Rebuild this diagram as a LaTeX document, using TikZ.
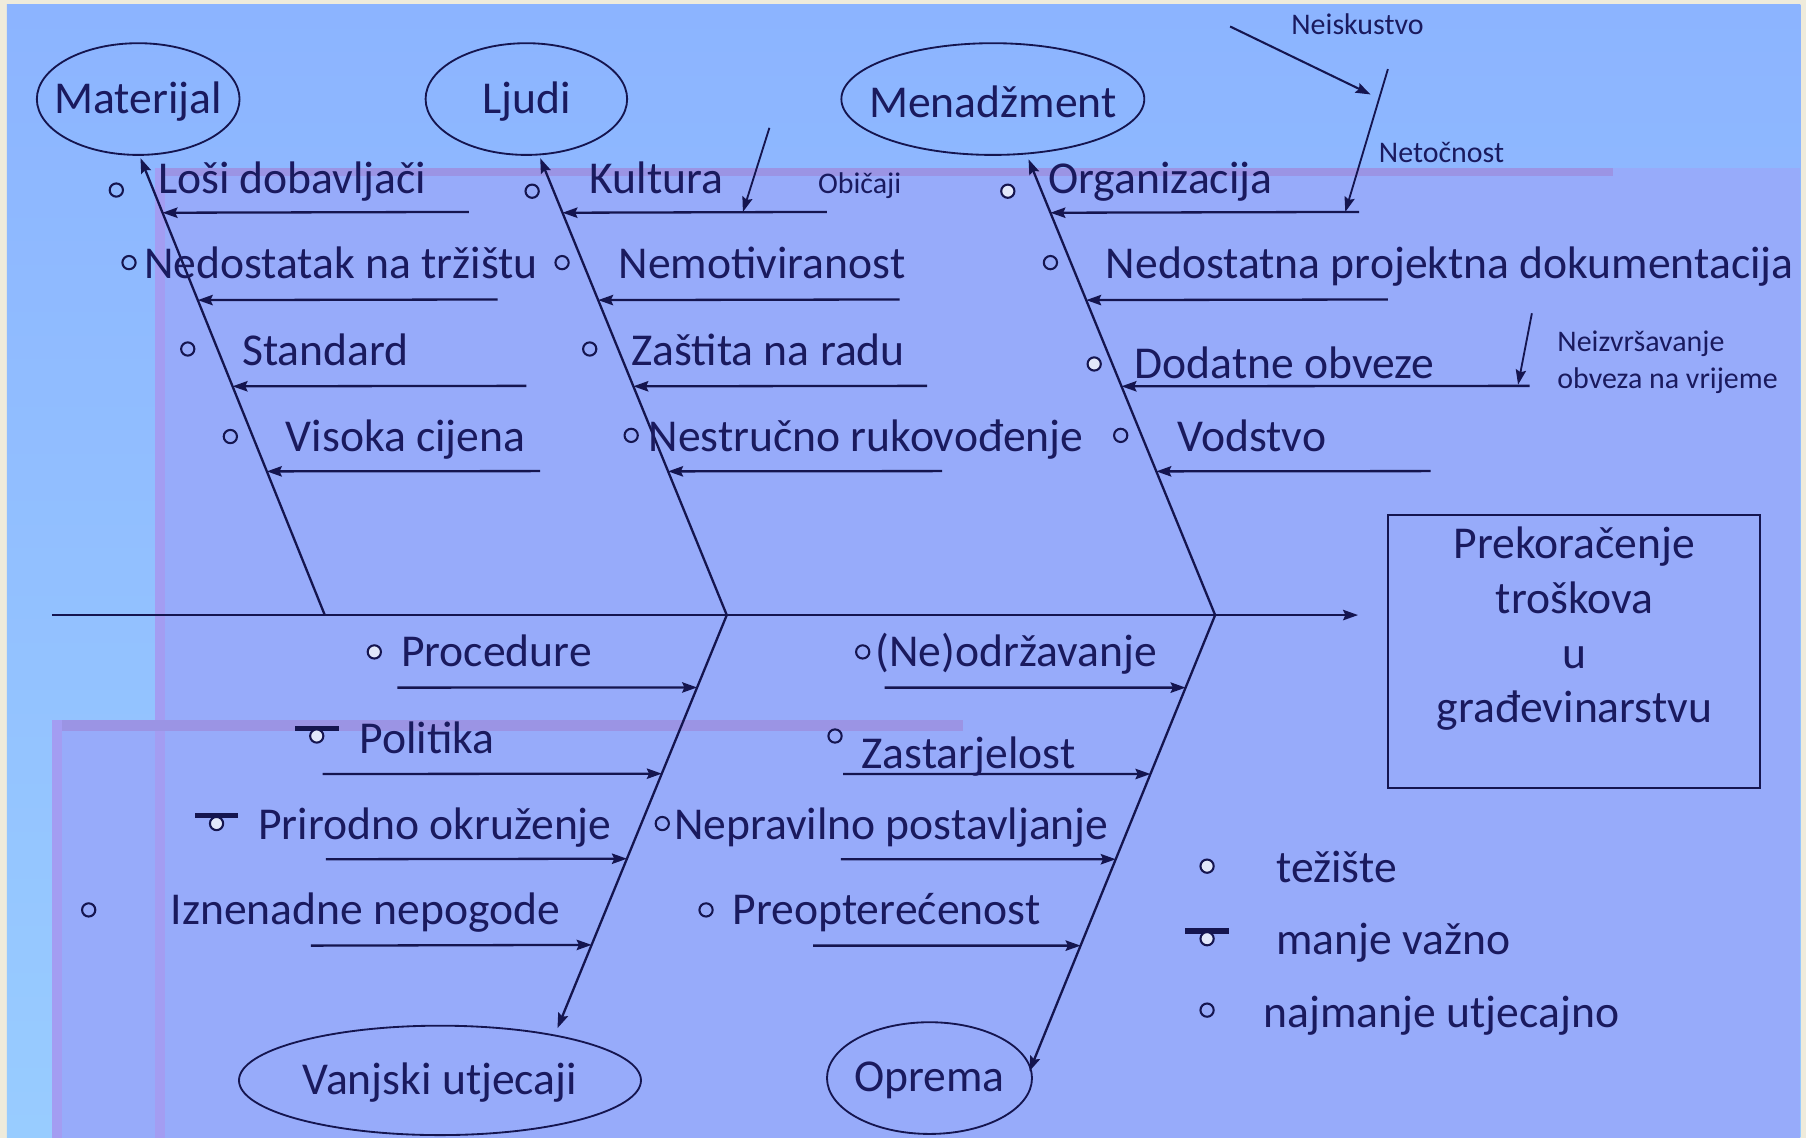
\documentclass[tikz,border=0pt]{standalone}
\usepackage{fontspec}
\setmainfont{Carlito}
\usetikzlibrary{arrows.meta,shapes.geometric,calc}
\definecolor{navy}{HTML}{15154F}
\definecolor{txt}{HTML}{1A1A5E}
\definecolor{beige}{HTML}{EFEBDB}
\definecolor{bgtop}{HTML}{8CB4FF}
\definecolor{bgbot}{HTML}{98CCFF}
\definecolor{lav}{HTML}{97ABFA}
\definecolor{bandh}{HTML}{9B94E4}
\definecolor{bandv}{HTML}{A39DF2}
\definecolor{dotfill}{HTML}{E2E8FA}
\newcommand\lblfnt{\fontsize{39.6}{47.5}\selectfont}
\newcommand\smlfnt{\fontsize{26}{32}\selectfont}
\begin{document}
\begin{tikzpicture}[x=1pt,y=-1pt,
  cat/.style={ellipse, draw=navy, line width=1.6pt, inner sep=0pt},
  catlbl/.style={font=\lblfnt, text=txt, inner sep=0pt, yshift=-2pt},
  lbl/.style={anchor=base west, inner sep=0pt, font=\lblfnt, text=txt},
  sml/.style={anchor=base west, inner sep=0pt, font=\smlfnt, text=txt},
  arr/.style={draw=navy, line width=2pt, -{Stealth[length=13pt,width=9pt,inset=2pt]}},
  dot/.style={circle, draw=navy, line width=1.8pt, minimum size=11.5pt, inner sep=0pt},
  dotf/.style={dot, fill=dotfill},
  pics/lessimp/.style={code={
    \fill[navy] (-19,-9) rectangle (19,-4.5);
    \node[dotf] at (0,0) {};}}
]
\useasboundingbox (0,0) rectangle (1568,988);
% background
\fill[beige] (0,0) rectangle (1568,988);
\shade[top color=bgtop, bottom color=bgbot] (6,4) rectangle (1563,988);
\fill[lav] (135,146) rectangle (1563,988);
\fill[lav] (45,625) rectangle (1563,988);
\fill[bandh] (135,146) rectangle (1400,153);
\fill[bandv] (135,146) rectangle (143,988);
\fill[bandh] (45,625) rectangle (836,635);
\fill[bandv] (45,625) rectangle (54,988);

% category ellipses
\node[cat, minimum width=176pt, minimum height=97pt, label={[catlbl]center:Materijal}] (mat) at (120,86) {};
\node[cat, minimum width=175pt, minimum height=97pt, label={[catlbl]center:Ljudi}] (lj) at (457,86) {};
\node[cat, minimum width=263pt, minimum height=97pt, label={[catlbl]center:Menadžment}] (men) at (862,86) {};
\node[cat, minimum width=349pt, minimum height=95pt, label={[catlbl]center:Vanjski utjecaji}] (van) at (382,938) {};
\node[cat, minimum width=178pt, minimum height=97pt, label={[catlbl]center:Oprema}] (op) at (807,936) {};

% effect box
\node[draw=navy, line width=1.8pt, minimum width=323pt, minimum height=237pt, inner sep=0pt] (goal) at (1366.5,565.5) {};
\node[align=center, font=\lblfnt, text=txt, inner sep=0pt] (goaltxt) at (1367,546) {Prekoračenje\\troškova\\u\\građevinarstvu};

% spine
\coordinate (tail) at (45,534);
\draw[arr, shorten >=25pt] (tail) -- (tail -| goal.west);

% joints and bone tips
\coordinate (j1) at (282,534);
\coordinate (j2) at (631,534);
\coordinate (j3) at (1055,534);
\coordinate (matTip) at ($(mat.south)+(2,2)$);
\coordinate (ljTip) at ($(lj.south)+(12,2)$);
\coordinate (menTip) at ($(men.south)+(31,3)$);
\coordinate (vanTip) at ($(van.north)+(102,3)$);
\coordinate (opTip) at ($(op.east)+(-3,-6)$);
\draw[arr] (j1) -- (matTip);
\draw[arr] (j2) -- (ljTip);
\draw[arr] (j3) -- (menTip);
\draw[arr] (j2) -- (vanTip);
\draw[arr] (j3) -- (opTip);

% sub-cause arrows
\foreach \i/\sx/\yy in {1/407/184, 2/432/260, 3/457/335, 4/469/409} {
  \coordinate (ms\i) at (\sx,\yy);
  \coordinate (me\i) at ($(j1)!{(534-\yy)/397.5}!(matTip)$);
  \draw[arr] (ms\i) -- (me\i);
}
\foreach \i/\sx/\yy in {1/718/184, 2/781/260, 3/805/335, 4/818/409} {
  \coordinate (ls\i) at (\sx,\yy);
  \coordinate (le\i) at ($(j2)!{(534-\yy)/397.5}!(ljTip)$);
  \draw[arr] (ls\i) -- (le\i);
}
\foreach \i/\sx/\yy in {1/1180/184, 2/1205/260, 3/1328/335, 4/1242/409} {
  \coordinate (ns\i) at (\sx,\yy);
  \coordinate (ne\i) at ($(j3)!{(534-\yy)/396.5}!(menTip)$);
  \draw[arr] (ns\i) -- (ne\i);
}
\foreach \i/\sx/\yy in {1/345/597, 2/280/672, 3/283/746, 4/270/821} {
  \coordinate (vs\i) at (\sx,\yy);
  \coordinate (ve\i) at ($(j2)!{(\yy-534)/359.5}!(vanTip)$);
  \draw[arr] (vs\i) -- (ve\i);
}
\foreach \i/\sx/\yy in {1/768/597, 2/732/672, 3/730/746, 4/706/821} {
  \coordinate (os\i) at (\sx,\yy);
  \coordinate (oe\i) at ($(j3)!{(\yy-534)/396}!(opTip)$);
  \draw[arr] (os\i) -- (oe\i);
}

% secondary arrows
\coordinate (ob1) at (668,111);
\coordinate (ob2) at (645,184);
\draw[arr, line width=1.6pt] (ob1) -- (ob2);
\coordinate (nk1) at (1068,23);
\coordinate (nk2) at (1190,82);
\draw[arr, line width=1.8pt] (nk1) -- (nk2);
\coordinate (nt1) at (1205,60);
\coordinate (nt2) at (1168,184);
\draw[arr, line width=1.6pt] (nt1) -- (nt2);
\coordinate (nz1) at (1330,272);
\coordinate (nz2) at (1318,334);
\draw[arr, line width=1.6pt] (nz1) -- (nz2);

% labels
\node[lbl] (t1) at (137,168) {Loši dobavljači};
\node[lbl] (t2) at (125,242) {Nedostatak na tržištu};
\node[lbl] (t3) at (210,317) {Standard};
\node[lbl] (t4) at (248,392) {Visoka cijena};
\node[lbl] (t5) at (512,168) {Kultura};
\node[lbl] (t6) at (537,242) {Nemotiviranost};
\node[lbl] (t7) at (548,317) {Zaštita na radu};
\node[lbl] (t8) at (563,392) {Nestručno rukovođenje};
\node[lbl] (t9) at (910,168) {Organizacija};
\node[lbl] (t10) at (960,242) {Nedostatna projektna dokumentacija};
\node[lbl] (t11) at (985,329) {Dodatne obveze};
\node[lbl] (t12) at (1022,392) {Vodstvo};
\node[lbl] (b1) at (348,579) {Procedure};
\node[lbl] (b2) at (312,654) {Politika};
\node[lbl] (b3) at (224,729) {Prirodno okruženje};
\node[lbl] (b4) at (148,803) {Iznenadne nepogode};
\node[lbl] (b5) at (760,579) {(Ne)održavanje};
\node[lbl] (b6) at (748,667) {Zastarjelost};
\node[lbl] (b7) at (585,729) {Nepravilno postavljanje};
\node[lbl] (b8) at (636,803) {Preopterećenost};
\node[sml] (s1) at (710,168) {Običaji};
\node[sml] (s2) at (1121,30) {Neiskustvo};
\node[sml] (s3) at (1197,141) {Netočnost};
\node[sml] (s4) at (1352,305) {Neizvršavanje};
\node[sml] (s5) at (1352,337) {obveza na vrijeme};

% bullets
\foreach \i/\x/\y in {1/101/165, 2/112/228, 3/163/303, 4/200/379, 5/462/166, 6/488/228, 7/512/303, 8/548/378, 9/912/228, 10/973/378, 11/749/566, 12/725/639, 13/575/715, 14/613/790, 15/77/790, 16/1048/877}
  \node[dot] (d\i) at (\x,\y) {};
\foreach \i/\x/\y in {1/875/166, 2/950/316, 3/325/566, 4/1048/752}
  \node[dotf] (f\i) at (\x,\y) {};
\pic at (275,639) {lessimp};
\pic at (188,715) {lessimp};
\pic at (1048,815) {lessimp};

% legend
\node[lbl] (l1) at (1108,766) {težište};
\node[lbl] (l2) at (1108,829) {manje važno};
\node[lbl] (l3) at (1097,892) {najmanje utjecajno};
\end{tikzpicture}
\end{document}
